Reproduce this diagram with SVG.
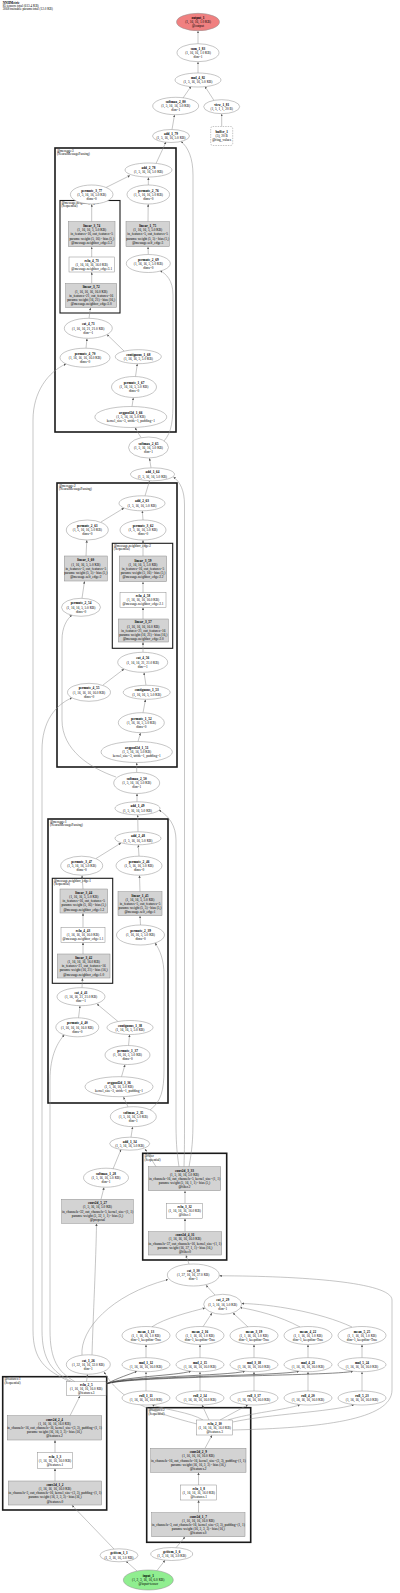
<svg xmlns="http://www.w3.org/2000/svg" width="400" height="1593" viewBox="0 0 400 1593">
<style>
text{font-family:"Liberation Serif","Times New Roman",serif;font-size:3.4px;text-anchor:middle;fill:#000}
.b{font-weight:bold}
.t{text-anchor:start;font-size:3.3px}
.n{fill:#fff;stroke:#8c8c8c;stroke-width:0.5}
.g{fill:#d3d3d3;stroke:#8c8c8c;stroke-width:0.5}
.cl{fill:none;stroke:#1a1a1a;stroke-width:1.6}
.sc{fill:none;stroke:#1a1a1a;stroke-width:1.1}
.edges path{fill:none;stroke:#8c8c8c;stroke-width:0.5;marker-end:url(#a)}
.edges path.k{stroke:#333;stroke-width:0.6}
</style>
<defs>
<marker id="a" viewBox="0 0 10 10" refX="10" refY="5" markerWidth="2.4" markerHeight="2.4" markerUnits="userSpaceOnUse" orient="auto"><path d="M0,0 L10,5 L0,10 z" fill="#555"/></marker>
</defs>
<rect width="400" height="1593" fill="#fff"/>
<g id="title">
<text class="t b" x="2.7" y="3.9">NNHMetric</text>
<text class="t" x="2.7" y="7.1">85 tensors total (613.4 KB)</text>
<text class="t" x="2.7" y="10.3">3068 trainable params total (12.0 KB)</text>
</g>

<g id="clusters">
<rect class="cl" x="55" y="148" width="121" height="284"/>
<text class="t" x="57" y="151.8">@message:3</text><text class="t" x="57" y="155.3">(NeuralMessagePassing)</text>
<rect class="sc" x="60" y="200.5" width="60" height="112.5"/>
<text class="t" x="61.5" y="204">@message.neighbor_edge:3</text><text class="t" x="61.5" y="207.4">(Sequential)</text>
<rect class="cl" x="57" y="483" width="120" height="284"/>
<text class="t" x="59" y="486.8">@message:2</text><text class="t" x="59" y="490.3">(NeuralMessagePassing)</text>
<rect class="sc" x="112.3" y="543.3" width="60.4" height="105"/>
<text class="t" x="113.8" y="546.9">@message.neighbor_edge:2</text><text class="t" x="113.8" y="550.3">(Sequential)</text>
<rect class="cl" x="48" y="819" width="120" height="284"/>
<text class="t" x="50" y="822.8">@message:1</text><text class="t" x="50" y="826.3">(NeuralMessagePassing)</text>
<rect class="sc" x="52.3" y="878.3" width="60.4" height="105"/>
<text class="t" x="53.8" y="881.9">@message.neighbor_edge:1</text><text class="t" x="53.8" y="885.3">(Sequential)</text>
<rect class="cl" x="142.7" y="1153.3" width="84" height="106.7"/>
<text class="t" x="144.5" y="1157">@filter</text><text class="t" x="144.5" y="1160.5">(Sequential)</text>
<rect class="cl" x="2.7" y="1376.7" width="104" height="133.3"/>
<text class="t" x="4.5" y="1380.4">@features:1</text><text class="t" x="4.5" y="1383.9">(Sequential)</text>
<rect class="cl" x="146.7" y="1407.7" width="104" height="134.6"/>
<text class="t" x="148.5" y="1411.4">@features:2</text><text class="t" x="148.5" y="1414.9">(Sequential)</text>
</g>

<g id="edges" class="edges">
<path d="M198,43.7 L198,31"/>
<path d="M198,73 L198,62"/>
<path d="M183,98 L191,86.5"/>
<path d="M214,100.5 L205,86.5"/>
<path d="M221.7,126.5 L221.7,114"/>
<path d="M172,129.5 L174.5,115"/>
<path d="M156,163.5 L166,142"/>
<path d="M189,1166.7 C192,1150 193,1140 193,1120 L193,175 C193,158 188,147 181,141.5"/>
<path d="M106,187.5 L130,175.5"/>
<path d="M148.3,185 L148.4,177.5"/>
<path d="M91.7,221.7 L91.7,204.3"/>
<path d="M91.7,257 L91.7,247"/>
<path d="M91.7,283.5 L91.7,272.3"/>
<path d="M89,318.3 L90.5,307.8"/>
<path d="M148,221.7 L148.2,204.3"/>
<path d="M148.3,254.5 L148,247"/>
<path d="M86,348.2 L87,338.6"/>
<path d="M124,351 L107,334.5"/>
<path d="M135.5,376.5 L137.3,364"/>
<path d="M132,406.5 L133.3,397.8"/>
<path d="M141,437.5 L135,427.8"/>
<path d="M164,441 C172,432 173,420 173,400 L173,295 C173,280 166,274 160,270.5"/>
<path d="M151,467.8 L149.5,458.3"/>
<path d="M145,495.8 L149.5,481"/>
<path d="M184,1166.7 C184.5,1150 184.5,1140 184.5,1120 L184.5,505 C184.5,490 180,482 173.5,477"/>
<path d="M101,522 L124,508"/>
<path d="M143,520 L142.3,511"/>
<path d="M86,556 L86.8,540.2"/>
<path d="M82,598.3 L84.5,581.3"/>
<path d="M143,556 L143,540.3"/>
<path d="M143,592.7 L143,582"/>
<path d="M143,619 L143,607.6"/>
<path d="M143,652.3 L143,642.3"/>
<path d="M146,685.3 L144,672.6"/>
<path d="M103,685 L124,669"/>
<path d="M143,712.7 L145.5,699.6"/>
<path d="M138,741.5 L140.5,733"/>
<path d="M136.7,772.5 L136.7,762.8"/>
<path d="M116,777 C90,768 62,750 62,720 L62,640 C62,627 67,619 72,615"/>
<path d="M137,801.8 L137,793.8"/>
<path d="M138,831.8 L137.7,815.1"/>
<path d="M179,1166.7 C176.5,1150 176,1140 176,1120 L176,840 C176,826 169,816 159,810"/>
<path d="M96,858.5 L121,843"/>
<path d="M139,856.2 L138.3,845.1"/>
<path d="M83,889 L82,875.5"/>
<path d="M83,927.3 L83,913.3"/>
<path d="M83,954 L83,942.6"/>
<path d="M82,987.7 L82.5,978.3"/>
<path d="M140,891.7 L139.5,875.5"/>
<path d="M140.5,925 L140,916"/>
<path d="M78.5,1017.8 L80,1006"/>
<path d="M118,1021.5 L97,1004"/>
<path d="M128.5,1045.5 L129.6,1034.8"/>
<path d="M121.5,1076.7 L125,1064.8"/>
<path d="M128,1106.9 L123.5,1097"/>
<path d="M150,1110 C161,1102 164,1090 164,1070 L164,975 C164,960 160,950 155,943"/>
<path d="M131,1137.2 L132.6,1127"/>
<path d="M113,1169 L121,1149.5"/>
<path d="M156,1166.7 L145,1149"/>
<path d="M101,1199.3 L104,1187.5"/>
<path d="M92,1354.8 C93,1320 96,1260 96.5,1223.6"/>
<path d="M82,1355 C80,1330 110,1295 168,1279.5"/>
<path d="M215,1295 L206,1285.2"/>
<path d="M152,1326.8 C165,1318 190,1312 205,1308"/>
<path d="M203,1326.7 L212,1313"/>
<path d="M248,1327 L233,1313"/>
<path d="M300,1327 C280,1316 255,1310 240,1307.5"/>
<path d="M352,1327 C320,1312 270,1304 241.7,1303.5"/>
<path d="M146,1357.7 L146,1344.8"/>
<path d="M200,1357.7 L200,1344.8"/>
<path d="M254,1357.7 L254,1344.8"/>
<path d="M308,1357.7 L308,1344.8"/>
<path d="M362,1357.7 L362,1344.8"/>
<path d="M146,1391 L146,1372"/>
<path d="M200,1391 L200,1372"/>
<path d="M254,1391 L254,1372"/>
<path d="M308,1391 L308,1372"/>
<path d="M362,1391 L362,1372"/>
<path class="k" d="M106,1384 C120,1377 128,1375 137,1371.2"/>
<path class="k" d="M106,1384 C125,1376 175,1376 191,1371.2"/>
<path class="k" d="M106,1384 C125,1376 229,1376 245,1371.2"/>
<path class="k" d="M106,1384 C125,1376 283,1376 299,1371.2"/>
<path class="k" d="M106,1384 C125,1376 337,1376 353,1371.2"/>
<path d="M203,1420 C190,1412 165,1410 152,1404.6"/>
<path d="M209,1420 L202,1405"/>
<path d="M220,1420 L248,1404.8"/>
<path d="M228,1420 C250,1413 285,1410 300,1404.8"/>
<path d="M232.7,1422 C270,1414 330,1412 354,1404.8"/>
<path d="M197,1424 C150,1412 120,1400 104,1372"/>
<path d="M232.7,1430 C320,1428 392,1420 392,1390 L392,1300 C392,1282 300,1276 219.4,1275.8"/>
<path d="M86.5,1381.7 L87.5,1374.5"/>
<path d="M70,1381.7 C45,1370 33,1360 33,1330 L33,420 C33,392 48,372 66,363.9"/>
<path d="M72,1381.7 C52,1372 42,1360 42,1330 L42,750 C42,722 55,705 72,697.8"/>
<path d="M75,1381.7 C58,1372 50,1360 50,1330 L50,1080 C50,1055 58,1042 64.3,1034.9"/>
<path d="M55,1481 L55,1468.6"/>
<path d="M55,1452.7 L55,1440.3"/>
<path d="M70,1415.7 L80,1396"/>
<path d="M198.5,1512.7 L198.6,1500.3"/>
<path d="M198.6,1485 L198.5,1472.6"/>
<path d="M205,1448.3 L212,1435.3"/>
<path d="M114,1549 L72,1505.3"/>
<path d="M176,1547.7 L185,1537"/>
<path d="M137,1571 L126,1561.2"/>
<path d="M157,1570.5 L165,1560.3"/>
<path d="M189,1264 L186,1255.3"/>
<path d="M185,1231.7 L185,1218.6"/>
<path d="M185,1203.3 L185,1191"/>
</g>

<g id="output_1"><ellipse cx="198" cy="22" rx="21.5" ry="8.7" fill="#f08080" stroke="#8c8c8c" stroke-width="0.5"/><text class="b" x="198" y="19">output_1</text><text x="198" y="23.2">(1, 16, 16, 1.0 KB)</text><text x="198" y="27.4">@output</text></g>
<g id="sum_1_83"><ellipse class="n" cx="198" cy="52.7" rx="21" ry="9"/><text class="b" x="198" y="49.7">sum_1_83</text><text x="198" y="53.9">(1, 16, 16, 1.0 KB)</text><text x="198" y="58.1">dim=1</text></g>
<g id="mul_4_82"><ellipse class="n" cx="198" cy="80" rx="23" ry="7"/><text class="b" x="198" y="79.1">mul_4_82</text><text x="198" y="83.3">(1, 5, 16, 16, 5.0 KB)</text></g>
<g id="softmax_2_80"><ellipse class="n" cx="175.7" cy="106" rx="23" ry="8.7"/><text class="b" x="175.7" y="103">softmax_2_80</text><text x="175.7" y="107.2">(1, 5, 16, 16, 5.0 KB)</text><text x="175.7" y="111.4">dim=1</text></g>
<g id="view_1_81"><ellipse class="n" cx="221.7" cy="106.7" rx="18" ry="7"/><text class="b" x="221.7" y="105.8">view_1_81</text><text x="221.7" y="110">(1, 5, 1, 1, 20 B)</text></g>
<g id="buffer_1"><rect x="210.7" y="126.5" width="22" height="19" rx="2" fill="#fff" stroke="#8c8c8c" stroke-width="0.5" stroke-dasharray="1.5,1"/><text class="b" x="221.7" y="133">buffer_1</text><text x="221.7" y="137.2">(5), 20 B</text><text x="221.7" y="141.4">@ring_values</text></g>
<g id="add_1_79"><ellipse class="n" cx="171" cy="136" rx="18.5" ry="6.5"/><text class="b" x="171" y="135.1">add_1_79</text><text x="171" y="139.3">(1, 5, 16, 16, 5.0 KB)</text></g>

<g id="add_2_78"><ellipse class="n" cx="148.5" cy="170" rx="23.5" ry="7"/><text class="b" x="148.5" y="169.1">add_2_78</text><text x="148.5" y="173.3">(1, 5, 16, 16, 5.0 KB)</text></g>
<g id="permute_3_77"><ellipse class="n" cx="91.7" cy="194.5" rx="21.3" ry="9.5"/><text class="b" x="91.7" y="191.5">permute_3_77</text><text x="91.7" y="195.7">(1, 5, 16, 16, 5.0 KB)</text><text x="91.7" y="199.9">dims=0</text></g>
<g id="permute_2_76"><ellipse class="n" cx="148.3" cy="194.5" rx="21.3" ry="9.5"/><text class="b" x="148.3" y="191.5">permute_2_76</text><text x="148.3" y="195.7">(1, 5, 16, 16, 5.0 KB)</text><text x="148.3" y="199.9">dims=0</text></g>
<g id="linear_3_74"><rect class="g" x="68.3" y="221.7" width="46.7" height="25"/><text class="b" x="91.7" y="227">linear_3_74</text><text x="91.7" y="231.2">(1, 16, 16, 5, 5.0 KB)</text><text x="91.7" y="235.4">in_features=16, out_features=5</text><text x="91.7" y="239.6">params: weight (5, 16) - bias (5,)</text><text x="91.7" y="243.8">@message.neighbor_edge:3.2</text></g>
<g id="relu_4_73"><rect class="n" x="69" y="257" width="45.4" height="15"/><text class="b" x="91.7" y="261.5">relu_4_73</text><text x="91.7" y="265.7">(1, 16, 16, 16, 16.0 KB)</text><text x="91.7" y="269.9">@message.neighbor_edge:3.1</text></g>
<g id="linear_3_72"><rect class="g" x="65.7" y="283.5" width="51" height="24"/><text class="b" x="91.2" y="288.3">linear_3_72</text><text x="91.2" y="292.5">(1, 16, 16, 16, 16.0 KB)</text><text x="91.2" y="296.7">in_features=21, out_features=16</text><text x="91.2" y="300.9">params: weight (16, 21) - bias (16,)</text><text x="91.2" y="305.1">@message.neighbor_edge:3.0</text></g>
<g id="linear_1_75"><rect class="g" x="126" y="221.7" width="43.3" height="25"/><text class="b" x="147.7" y="227">linear_1_75</text><text x="147.7" y="231.2">(1, 16, 16, 5, 5.0 KB)</text><text x="147.7" y="235.4">in_features=5, out_features=5</text><text x="147.7" y="239.6">params: weight (5, 5) - bias (5,)</text><text x="147.7" y="243.8">@message.self_edge:3</text></g>
<g id="permute_2_69"><ellipse class="n" cx="148.3" cy="263.5" rx="22" ry="9"/><text class="b" x="148.3" y="260.5">permute_2_69</text><text x="148.3" y="264.7">(1, 16, 16, 5, 5.0 KB)</text><text x="148.3" y="268.9">dims=0</text></g>
<g id="cat_4_71"><ellipse class="n" cx="88.3" cy="328.3" rx="24" ry="10"/><text class="b" x="88.3" y="325.3">cat_4_71</text><text x="88.3" y="329.5">(1, 16, 16, 21, 21.0 KB)</text><text x="88.3" y="333.7">dim=-1</text></g>
<g id="permute_4_70"><ellipse class="n" cx="85" cy="357.7" rx="25" ry="9.5"/><text class="b" x="85" y="354.7">permute_4_70</text><text x="85" y="358.9">(1, 16, 16, 16, 16.0 KB)</text><text x="85" y="363.1">dims=0</text></g>
<g id="contiguous_1_68"><ellipse class="n" cx="138.3" cy="356.7" rx="23" ry="7"/><text class="b" x="138.3" y="355.8">contiguous_1_68</text><text x="138.3" y="360">(1, 16, 16, 5, 5.0 KB)</text></g>
<g id="permute_1_67"><ellipse class="n" cx="134" cy="387" rx="22.5" ry="10.5"/><text class="b" x="134" y="384">permute_1_67</text><text x="134" y="388.2">(1, 16, 16, 5, 5.0 KB)</text><text x="134" y="392.4">dims=0</text></g>
<g id="avgpool2d_1_66"><ellipse class="n" cx="130.8" cy="417" rx="36" ry="10.5"/><text class="b" x="130.8" y="414">avgpool2d_1_66</text><text x="130.8" y="418.2">(1, 5, 16, 16, 5.0 KB)</text><text x="130.8" y="422.4">kernel_size=3, stride=1, padding=1</text></g>
<g id="softmax_2_65"><ellipse class="n" cx="148.5" cy="447.5" rx="20" ry="10.5"/><text class="b" x="148.5" y="444.5">softmax_2_65</text><text x="148.5" y="448.7">(1, 5, 16, 16, 5.0 KB)</text><text x="148.5" y="452.9">dim=1</text></g>
<g id="add_1_64"><ellipse class="n" cx="152.5" cy="474.3" rx="22" ry="6.5"/><text class="b" x="152.5" y="473.4">add_1_64</text><text x="152.5" y="477.6">(1, 5, 16, 16, 5.0 KB)</text></g>

<g id="add_2_63"><ellipse class="n" cx="142" cy="503.3" rx="23" ry="7.5"/><text class="b" x="142" y="502.4">add_2_63</text><text x="142" y="506.6">(1, 5, 16, 16, 5.0 KB)</text></g>
<g id="permute_2_61"><ellipse class="n" cx="87.3" cy="530" rx="21" ry="10"/><text class="b" x="87.3" y="527">permute_2_61</text><text x="87.3" y="531.2">(1, 5, 16, 16, 5.0 KB)</text><text x="87.3" y="535.4">dims=0</text></g>
<g id="permute_3_62"><ellipse class="n" cx="143" cy="530" rx="23" ry="10"/><text class="b" x="143" y="527">permute_3_62</text><text x="143" y="531.2">(1, 5, 16, 16, 5.0 KB)</text><text x="143" y="535.4">dims=0</text></g>
<g id="linear_1_60"><rect class="g" x="64.3" y="556" width="43" height="25"/><text class="b" x="85.8" y="561.3">linear_1_60</text><text x="85.8" y="565.5">(1, 16, 16, 5, 5.0 KB)</text><text x="85.8" y="569.7">in_features=5, out_features=5</text><text x="85.8" y="573.9">params: weight (5, 5) - bias (5,)</text><text x="85.8" y="578.1">@message.self_edge:2</text></g>
<g id="permute_2_54"><ellipse class="n" cx="81" cy="607.3" rx="19.5" ry="9"/><text class="b" x="81" y="604.3">permute_2_54</text><text x="81" y="608.5">(1, 16, 16, 5, 5.0 KB)</text><text x="81" y="612.7">dims=0</text></g>
<g id="linear_3_59"><rect class="g" x="119.3" y="556" width="47.4" height="25.7"/><text class="b" x="143" y="561.6">linear_3_59</text><text x="143" y="565.8">(1, 16, 16, 5, 5.0 KB)</text><text x="143" y="570">in_features=16, out_features=5</text><text x="143" y="574.2">params: weight (5, 16) - bias (5,)</text><text x="143" y="578.4">@message.neighbor_edge:2.2</text></g>
<g id="relu_4_58"><rect class="n" x="120" y="592.7" width="46" height="14.6"/><text class="b" x="143" y="597">relu_4_58</text><text x="143" y="601.2">(1, 16, 16, 16, 16.0 KB)</text><text x="143" y="605.4">@message.neighbor_edge:2.1</text></g>
<g id="linear_3_57"><rect class="g" x="118.3" y="619" width="50" height="23"/><text class="b" x="143.3" y="623.3">linear_3_57</text><text x="143.3" y="627.5">(1, 16, 16, 16, 16.0 KB)</text><text x="143.3" y="631.7">in_features=21, out_features=16</text><text x="143.3" y="635.9">params: weight (16, 21) - bias (16,)</text><text x="143.3" y="640.1">@message.neighbor_edge:2.0</text></g>
<g id="cat_4_56"><ellipse class="n" cx="142.7" cy="662.3" rx="25" ry="10"/><text class="b" x="142.7" y="659.3">cat_4_56</text><text x="142.7" y="663.5">(1, 16, 16, 21, 21.0 KB)</text><text x="142.7" y="667.7">dim=-1</text></g>
<g id="permute_4_55"><ellipse class="n" cx="89" cy="692.3" rx="21.5" ry="9"/><text class="b" x="89" y="689.3">permute_4_55</text><text x="89" y="693.5">(1, 16, 16, 16, 16.0 KB)</text><text x="89" y="697.7">dims=0</text></g>
<g id="contiguous_1_53"><ellipse class="n" cx="146.7" cy="692.3" rx="23.5" ry="7"/><text class="b" x="146.7" y="691.4">contiguous_1_53</text><text x="146.7" y="695.6">(1, 16, 16, 5, 5.0 KB)</text></g>
<g id="permute_1_52"><ellipse class="n" cx="141.3" cy="722.7" rx="23" ry="10"/><text class="b" x="141.3" y="719.7">permute_1_52</text><text x="141.3" y="723.9">(1, 16, 16, 5, 5.0 KB)</text><text x="141.3" y="728.1">dims=0</text></g>
<g id="avgpool2d_1_51"><ellipse class="n" cx="136.7" cy="752" rx="35.7" ry="10.5"/><text class="b" x="136.7" y="749">avgpool2d_1_51</text><text x="136.7" y="753.2">(1, 5, 16, 16, 5.0 KB)</text><text x="136.7" y="757.4">kernel_size=3, stride=1, padding=1</text></g>
<g id="softmax_2_50"><ellipse class="n" cx="136.7" cy="783" rx="23" ry="10.5"/><text class="b" x="136.7" y="780">softmax_2_50</text><text x="136.7" y="784.2">(1, 5, 16, 16, 5.0 KB)</text><text x="136.7" y="788.4">dim=1</text></g>
<g id="add_1_49"><ellipse class="n" cx="137.5" cy="808.3" rx="22.5" ry="6.5"/><text class="b" x="137.5" y="807.4">add_1_49</text><text x="137.5" y="811.6">(1, 5, 16, 16, 5.0 KB)</text></g>

<g id="add_2_48"><ellipse class="n" cx="138" cy="838.3" rx="23" ry="6.5"/><text class="b" x="138" y="837.4">add_2_48</text><text x="138" y="841.6">(1, 5, 16, 16, 5.0 KB)</text></g>
<g id="permute_3_47"><ellipse class="n" cx="81.7" cy="865.7" rx="21" ry="9.5"/><text class="b" x="81.7" y="862.7">permute_3_47</text><text x="81.7" y="866.9">(1, 5, 16, 16, 5.0 KB)</text><text x="81.7" y="871.1">dims=0</text></g>
<g id="permute_2_46"><ellipse class="n" cx="139" cy="865.7" rx="23" ry="9.5"/><text class="b" x="139" y="862.7">permute_2_46</text><text x="139" y="866.9">(1, 5, 16, 16, 5.0 KB)</text><text x="139" y="871.1">dims=0</text></g>
<g id="linear_3_44"><rect class="g" x="60" y="889" width="47.7" height="24"/><text class="b" x="83.8" y="893.8">linear_3_44</text><text x="83.8" y="898">(1, 16, 16, 5, 5.0 KB)</text><text x="83.8" y="902.2">in_features=16, out_features=5</text><text x="83.8" y="906.4">params: weight (5, 16) - bias (5,)</text><text x="83.8" y="910.6">@message.neighbor_edge:1.2</text></g>
<g id="relu_4_43"><rect class="n" x="61" y="927.3" width="44" height="15"/><text class="b" x="83" y="931.8">relu_4_43</text><text x="83" y="936">(1, 16, 16, 16, 16.0 KB)</text><text x="83" y="940.2">@message.neighbor_edge:1.1</text></g>
<g id="linear_3_42"><rect class="g" x="57.3" y="954" width="52.7" height="24"/><text class="b" x="83.7" y="958.8">linear_3_42</text><text x="83.7" y="963">(1, 16, 16, 16, 16.0 KB)</text><text x="83.7" y="967.2">in_features=21, out_features=16</text><text x="83.7" y="971.4">params: weight (16, 21) - bias (16,)</text><text x="83.7" y="975.6">@message.neighbor_edge:1.0</text></g>
<g id="linear_1_45"><rect class="g" x="118" y="891.7" width="44" height="24"/><text class="b" x="140" y="896.5">linear_1_45</text><text x="140" y="900.7">(1, 16, 16, 5, 5.0 KB)</text><text x="140" y="904.9">in_features=5, out_features=5</text><text x="140" y="909.1">params: weight (5, 5) - bias (5,)</text><text x="140" y="913.3">@message.self_edge:1</text></g>
<g id="permute_2_39"><ellipse class="n" cx="140.5" cy="935" rx="24" ry="10"/><text class="b" x="140.5" y="932">permute_2_39</text><text x="140.5" y="936.2">(1, 16, 16, 5, 5.0 KB)</text><text x="140.5" y="940.4">dims=0</text></g>
<g id="cat_4_41"><ellipse class="n" cx="81" cy="996.7" rx="24" ry="9"/><text class="b" x="81" y="993.7">cat_4_41</text><text x="81" y="997.9">(1, 16, 16, 21, 21.0 KB)</text><text x="81" y="1002.1">dim=-1</text></g>
<g id="permute_4_40"><ellipse class="n" cx="77.3" cy="1027.3" rx="21.5" ry="9.5"/><text class="b" x="77.3" y="1024.3">permute_4_40</text><text x="77.3" y="1028.5">(1, 16, 16, 16, 16.0 KB)</text><text x="77.3" y="1032.7">dims=0</text></g>
<g id="contiguous_1_38"><ellipse class="n" cx="130" cy="1027.5" rx="23" ry="7"/><text class="b" x="130" y="1026.6">contiguous_1_38</text><text x="130" y="1030.8">(1, 16, 16, 5, 5.0 KB)</text></g>
<g id="permute_1_37"><ellipse class="n" cx="127.5" cy="1055" rx="22.5" ry="9.5"/><text class="b" x="127.5" y="1052">permute_1_37</text><text x="127.5" y="1056.2">(1, 16, 16, 5, 5.0 KB)</text><text x="127.5" y="1060.4">dims=0</text></g>
<g id="avgpool2d_1_36"><ellipse class="n" cx="119" cy="1086.7" rx="34" ry="10"/><text class="b" x="119" y="1083.7">avgpool2d_1_36</text><text x="119" y="1087.9">(1, 5, 16, 16, 5.0 KB)</text><text x="119" y="1092.1">kernel_size=3, stride=1, padding=1</text></g>
<g id="softmax_2_35"><ellipse class="n" cx="133.3" cy="1116.7" rx="23" ry="10"/><text class="b" x="133.3" y="1113.7">softmax_2_35</text><text x="133.3" y="1117.9">(1, 5, 16, 16, 5.0 KB)</text><text x="133.3" y="1122.1">dim=1</text></g>
<g id="add_1_34"><ellipse class="n" cx="129.7" cy="1143.7" rx="20" ry="6.5"/><text class="b" x="129.7" y="1142.8">add_1_34</text><text x="129.7" y="1147">(1, 5, 16, 16, 5.0 KB)</text></g>
<g id="softmax_1_28"><ellipse class="n" cx="106" cy="1177.7" rx="22.5" ry="9.5"/><text class="b" x="106" y="1174.7">softmax_1_28</text><text x="106" y="1178.9">(1, 5, 16, 16, 5.0 KB)</text><text x="106" y="1183.1">dim=1</text></g>
<g id="conv2d_5_27"><rect class="g" x="61.7" y="1199.3" width="71.6" height="24"/><text class="b" x="97.5" y="1204.1">conv2d_5_27</text><text x="97.5" y="1208.3">(1, 5, 16, 16, 5.0 KB)</text><text x="97.5" y="1212.5">in_channels=32, out_channels=5, kernel_size=(1, 1)</text><text x="97.5" y="1216.7">params: weight (5, 32, 1, 1) - bias (5,)</text><text x="97.5" y="1220.9">@proposal</text></g>

<g id="conv2d_3_33"><rect class="g" x="148.3" y="1166.7" width="72.4" height="24"/><text class="b" x="184.5" y="1171.5">conv2d_3_33</text><text x="184.5" y="1175.7">(1, 5, 16, 16, 5.0 KB)</text><text x="184.5" y="1179.9">in_channels=16, out_channels=5, kernel_size=(1, 1)</text><text x="184.5" y="1184.1">params: weight (5, 16, 1, 1) - bias (5,)</text><text x="184.5" y="1188.3">@filter.2</text></g>
<g id="relu_3_32"><rect class="n" x="166.7" y="1203.3" width="36" height="15"/><text class="b" x="184.7" y="1207.8">relu_3_32</text><text x="184.7" y="1212">(1, 16, 16, 16, 16.0 KB)</text><text x="184.7" y="1216.2">@filter.1</text></g>
<g id="conv2d_4_31"><rect class="g" x="148.3" y="1231.7" width="73.4" height="23.3"/><text class="b" x="185" y="1236.2">conv2d_4_31</text><text x="185" y="1240.4">(1, 16, 16, 16, 16.0 KB)</text><text x="185" y="1244.6">in_channels=37, out_channels=16, kernel_size=(1, 1)</text><text x="185" y="1248.8">params: weight (16, 37, 1, 1) - bias (16,)</text><text x="185" y="1253">@filter.0</text></g>
<g id="cat_3_30"><ellipse class="n" cx="193.3" cy="1275" rx="26" ry="11"/><text class="b" x="193.3" y="1272">cat_3_30</text><text x="193.3" y="1276.2">(1, 37, 16, 16, 37.0 KB)</text><text x="193.3" y="1280.4">dim=1</text></g>
<g id="cat_2_29"><ellipse class="n" cx="222.7" cy="1304.3" rx="19" ry="10"/><text class="b" x="222.7" y="1301.3">cat_2_29</text><text x="222.7" y="1305.5">(1, 5, 16, 16, 5.0 KB)</text><text x="222.7" y="1309.7">dim=1</text></g>
<g id="cat_1_26"><ellipse class="n" cx="88.3" cy="1364.5" rx="22" ry="9.7"/><text class="b" x="88.3" y="1361.5">cat_1_26</text><text x="88.3" y="1365.7">(1, 32, 16, 16, 32.0 KB)</text><text x="88.3" y="1369.9">dim=1</text></g>

<g id="mean_1_13"><ellipse class="n" cx="146" cy="1335.5" rx="24" ry="9"/><text class="b" x="146" y="1332.5">mean_1_13</text><text x="146" y="1336.7">(1, 1, 16, 16, 1.0 KB)</text><text x="146" y="1340.9">dim=1, keepdim=True</text></g>
<g id="mean_2_16"><ellipse class="n" cx="200" cy="1335.5" rx="24" ry="9"/><text class="b" x="200" y="1332.5">mean_2_16</text><text x="200" y="1336.7">(1, 1, 16, 16, 1.0 KB)</text><text x="200" y="1340.9">dim=1, keepdim=True</text></g>
<g id="mean_3_19"><ellipse class="n" cx="254" cy="1335.5" rx="24" ry="9"/><text class="b" x="254" y="1332.5">mean_3_19</text><text x="254" y="1336.7">(1, 1, 16, 16, 1.0 KB)</text><text x="254" y="1340.9">dim=1, keepdim=True</text></g>
<g id="mean_4_22"><ellipse class="n" cx="308" cy="1335.5" rx="24" ry="9"/><text class="b" x="308" y="1332.5">mean_4_22</text><text x="308" y="1336.7">(1, 1, 16, 16, 1.0 KB)</text><text x="308" y="1340.9">dim=1, keepdim=True</text></g>
<g id="mean_5_25"><ellipse class="n" cx="362" cy="1335.5" rx="24" ry="9"/><text class="b" x="362" y="1332.5">mean_5_25</text><text x="362" y="1336.7">(1, 1, 16, 16, 1.0 KB)</text><text x="362" y="1340.9">dim=1, keepdim=True</text></g>
<g id="mul_1_12"><ellipse class="n" cx="146" cy="1364.7" rx="24" ry="7"/><text class="b" x="146" y="1363.8">mul_1_12</text><text x="146" y="1368">(1, 16, 16, 16, 16.0 KB)</text></g>
<g id="mul_2_15"><ellipse class="n" cx="200" cy="1364.7" rx="24" ry="7"/><text class="b" x="200" y="1363.8">mul_2_15</text><text x="200" y="1368">(1, 16, 16, 16, 16.0 KB)</text></g>
<g id="mul_3_18"><ellipse class="n" cx="254" cy="1364.7" rx="24" ry="7"/><text class="b" x="254" y="1363.8">mul_3_18</text><text x="254" y="1368">(1, 16, 16, 16, 16.0 KB)</text></g>
<g id="mul_4_21"><ellipse class="n" cx="308" cy="1364.7" rx="24" ry="7"/><text class="b" x="308" y="1363.8">mul_4_21</text><text x="308" y="1368">(1, 16, 16, 16, 16.0 KB)</text></g>
<g id="mul_5_24"><ellipse class="n" cx="362" cy="1364.7" rx="24" ry="7"/><text class="b" x="362" y="1363.8">mul_5_24</text><text x="362" y="1368">(1, 16, 16, 16, 16.0 KB)</text></g>
<g id="roll_1_11"><ellipse class="n" cx="146" cy="1398" rx="24" ry="7"/><text class="b" x="146" y="1397.1">roll_1_11</text><text x="146" y="1401.3">(1, 16, 16, 16, 16.0 KB)</text></g>
<g id="roll_2_14"><ellipse class="n" cx="200" cy="1398" rx="24" ry="7"/><text class="b" x="200" y="1397.1">roll_2_14</text><text x="200" y="1401.3">(1, 16, 16, 16, 16.0 KB)</text></g>
<g id="roll_3_17"><ellipse class="n" cx="254" cy="1398" rx="24" ry="7"/><text class="b" x="254" y="1397.1">roll_3_17</text><text x="254" y="1401.3">(1, 16, 16, 16, 16.0 KB)</text></g>
<g id="roll_4_20"><ellipse class="n" cx="308" cy="1398" rx="24" ry="7"/><text class="b" x="308" y="1397.1">roll_4_20</text><text x="308" y="1401.3">(1, 16, 16, 16, 16.0 KB)</text></g>
<g id="roll_5_23"><ellipse class="n" cx="362" cy="1398" rx="24" ry="7"/><text class="b" x="362" y="1397.1">roll_5_23</text><text x="362" y="1401.3">(1, 16, 16, 16, 16.0 KB)</text></g>

<g id="relu_2_5"><rect class="n" x="66.7" y="1381.7" width="39.3" height="14"/><text class="b" x="86.3" y="1385.7">relu_2_5</text><text x="86.3" y="1389.9">(1, 16, 16, 16, 16.0 KB)</text><text x="86.3" y="1394.1">@features.3</text></g>
<g id="conv2d_2_4"><rect class="g" x="7.3" y="1415.7" width="94.4" height="24.3"/><text class="b" x="54.5" y="1420.6">conv2d_2_4</text><text x="54.5" y="1424.8">(1, 16, 16, 16, 16.0 KB)</text><text x="54.5" y="1429">in_channels=16, out_channels=16, kernel_size=(3, 3), padding=(1, 1)</text><text x="54.5" y="1433.2">params: weight (16, 16, 3, 3) - bias (16,)</text><text x="54.5" y="1437.4">@features.2</text></g>
<g id="relu_1_3"><rect class="n" x="37.3" y="1452.7" width="35.4" height="15.6"/><text class="b" x="55" y="1457.5">relu_1_3</text><text x="55" y="1461.7">(1, 16, 16, 16, 16.0 KB)</text><text x="55" y="1465.9">@features.1</text></g>
<g id="conv2d_1_2"><rect class="g" x="8.3" y="1481" width="93.4" height="24"/><text class="b" x="55" y="1485.8">conv2d_1_2</text><text x="55" y="1490">(1, 16, 16, 16, 16.0 KB)</text><text x="55" y="1494.2">in_channels=3, out_channels=16, kernel_size=(3, 3), padding=(1, 1)</text><text x="55" y="1498.4">params: weight (16, 3, 3, 3) - bias (16,)</text><text x="55" y="1502.6">@features.0</text></g>

<g id="relu_2_10"><rect class="n" x="196.7" y="1420" width="36" height="15"/><text class="b" x="214.7" y="1424.5">relu_2_10</text><text x="214.7" y="1428.7">(1, 16, 16, 16, 16.0 KB)</text><text x="214.7" y="1432.9">@features.3</text></g>
<g id="conv2d_2_9"><rect class="g" x="150.7" y="1448.3" width="95.3" height="24"/><text class="b" x="198.3" y="1453.1">conv2d_2_9</text><text x="198.3" y="1457.3">(1, 16, 16, 16, 16.0 KB)</text><text x="198.3" y="1461.5">in_channels=16, out_channels=16, kernel_size=(3, 3), padding=(1, 1)</text><text x="198.3" y="1465.7">params: weight (16, 16, 3, 3) - bias (16,)</text><text x="198.3" y="1469.9">@features.2</text></g>
<g id="relu_1_8"><rect class="n" x="180.7" y="1485" width="36" height="15"/><text class="b" x="198.7" y="1489.5">relu_1_8</text><text x="198.7" y="1493.7">(1, 16, 16, 16, 16.0 KB)</text><text x="198.7" y="1497.9">@features.1</text></g>
<g id="conv2d_1_7"><rect class="g" x="151.7" y="1512.7" width="93.3" height="24"/><text class="b" x="198.3" y="1517.5">conv2d_1_7</text><text x="198.3" y="1521.7">(1, 16, 16, 16, 16.0 KB)</text><text x="198.3" y="1525.9">in_channels=3, out_channels=16, kernel_size=(3, 3), padding=(1, 1)</text><text x="198.3" y="1530.1">params: weight (16, 3, 3, 3) - bias (16,)</text><text x="198.3" y="1534.3">@features.0</text></g>

<g id="getitem_1_1"><ellipse class="n" cx="119" cy="1555.3" rx="19" ry="6.5"/><text class="b" x="119" y="1554.4">getitem_1_1</text><text x="119" y="1558.6">(1, 3, 16, 16, 3.0 KB)</text></g>
<g id="getitem_1_6"><ellipse class="n" cx="171.7" cy="1554" rx="21" ry="6.5"/><text class="b" x="171.7" y="1553.1">getitem_1_6</text><text x="171.7" y="1557.3">(1, 3, 16, 16, 3.0 KB)</text></g>
<g id="input_1"><ellipse cx="148.3" cy="1580" rx="25" ry="10" fill="#90ee90" stroke="#8c8c8c" stroke-width="0.5"/><text class="b" x="148.3" y="1577">input_1</text><text x="148.3" y="1581.2">(1, 2, 3, 16, 16, 6.0 KB)</text><text x="148.3" y="1585.4">@input-tensor</text></g>
</svg>
